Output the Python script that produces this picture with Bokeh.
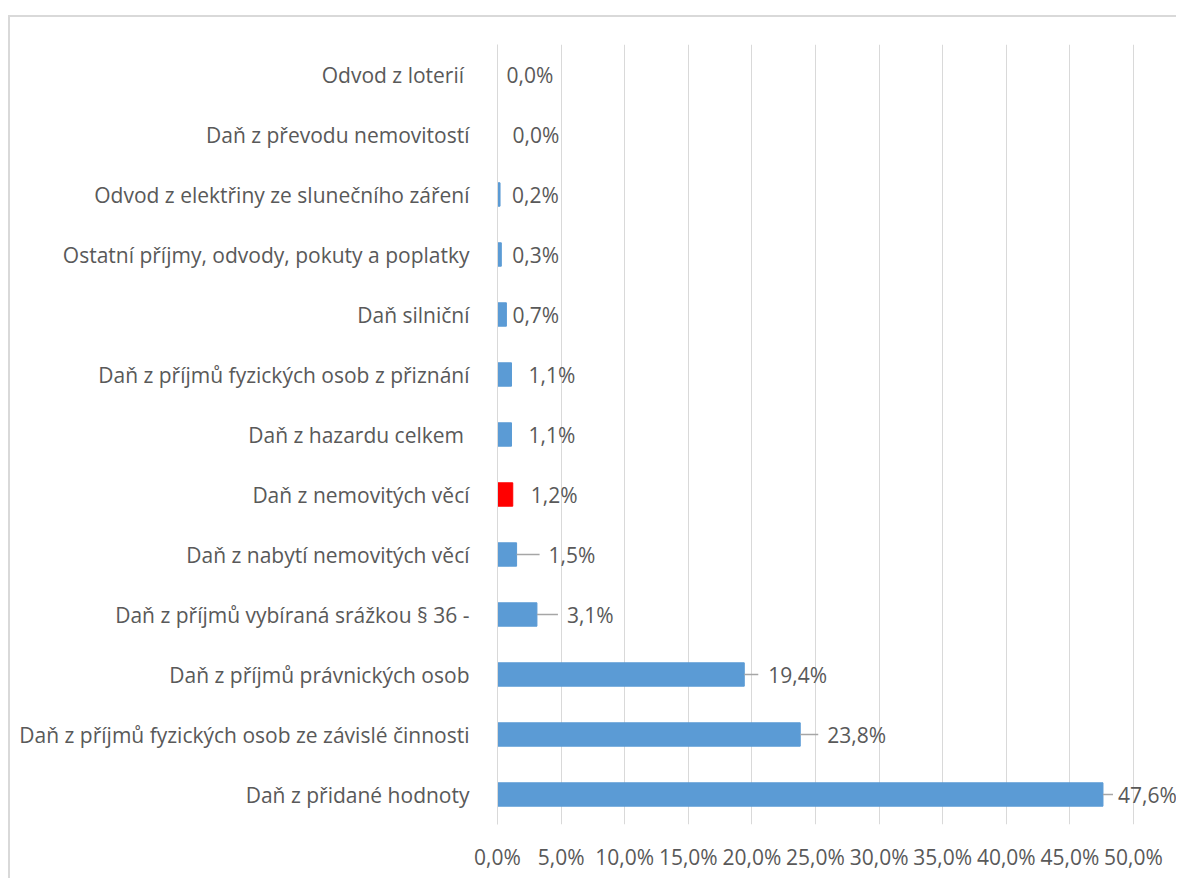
from bokeh.plotting import figure
from bokeh.models import ColumnDataSource, FixedTicker, FactorRange, Range1d, LabelSet
from bokeh.core.properties import value
from bokeh.embed import file_html
from bokeh.resources import INLINE

# ---- data (top to bottom as shown) ----
categories = [
    "Odvod z loterií ",
    "Daň z převodu nemovitostí",
    "Odvod z elektřiny ze slunečního záření",
    "Ostatní příjmy, odvody, pokuty a poplatky",
    "Daň silniční",
    "Daň z příjmů fyzických osob z přiznání",
    "Daň z hazardu celkem ",
    "Daň z nemovitých věcí",
    "Daň z nabytí nemovitých věcí",
    "Daň z příjmů vybíraná srážkou § 36 -",
    "Daň z příjmů právnických osob",
    "Daň z příjmů fyzických osob ze závislé činnosti",
    "Daň z přidané hodnoty",
]
shares = [0.000, 0.000, 0.002, 0.003, 0.007, 0.011, 0.011, 0.012, 0.015, 0.031, 0.194, 0.238, 0.476]
highlight = [False, False, False, False, False, False, False, True, False, False, False, False, False]
labels = ["0,0%", "0,0%", "0,2%", "0,3%", "0,7%", "1,1%", "1,1%", "1,2%", "1,5%", "3,1%", "19,4%", "23,8%", "47,6%"]
x_ticks = [0.0, 0.05, 0.10, 0.15, 0.20, 0.25, 0.30, 0.35, 0.40, 0.45, 0.50]
x_tick_labels = ["0,0%", "5,0%", "10,0%", "15,0%", "20,0%", "25,0%", "30,0%", "35,0%", "40,0%", "45,0%", "50,0%"]

# label placement (pixels from bar end) and leader line lengths (pixels)
label_offsets = [9, 15, 12, 11, 6, 17, 17, 18, 32, 30, 24, 27, 15]
leader_px = [0, 0, 0, 0, 0, 0, 0, 0, 23, 21, 14, 18, 10]

BLUE = "#5B9BD5"
RED = "#FF0000"
TEXT = "#595959"
GRID = "#D9D9D9"
FONT = "Open Sans"
FS = "21px"

W, H = 1168, 863
ML, MT, MB = 487, 27, 56
axis_w = 636          # pixel width of the 0..50 % axis
x_max = 0.5
px_per_unit = axis_w / x_max
x_end = x_max + (W - ML - axis_w) / px_per_unit   # extend frame to the canvas edge so labels are not clipped

colors = [RED if h else BLUE for h in highlight]
leader_end = [s + lp / px_per_unit for s, lp in zip(shares, leader_px)]
has_leader = [lp > 0 for lp in leader_px]

src = ColumnDataSource(dict(cat=categories, v=shares, c=colors, lab=labels, off=label_offsets))
lsrc = ColumnDataSource(dict(
    cat=[c for c, h in zip(categories, has_leader) if h],
    x0=[s for s, h in zip(shares, has_leader) if h],
    x1=[e for e, h in zip(leader_end, has_leader) if h],
))

p = figure(width=W, height=H, output_backend="svg", toolbar_location=None,
           y_range=FactorRange(factors=list(reversed(categories)), range_padding=0),
           x_range=Range1d(0, x_end),
           min_border_left=ML, min_border_right=0, min_border_top=MT, min_border_bottom=MB,
           styles={"margin-left": "8px", "margin-top": "15px",
                   "border-left": "2px solid #D9D9D9", "border-top": "2px solid #D9D9D9"})
p.outline_line_color = None
p.background_fill_color = "white"
p.border_fill_color = "white"

p.hbar(y="cat", right="v", left=0, height=0.39, color="c", line_color="c", source=src)
p.segment(x0="x0", y0="cat", x1="x1", y1="cat", line_color="#A6A6A6", line_width=1.5, source=lsrc)
p.add_layout(LabelSet(x="v", y="cat", text="lab", x_offset="off", source=src,
                      text_font=value(FONT), text_font_size=value(FS), text_color=value(TEXT),
                      text_align="left", text_baseline="middle"))

p.ygrid.grid_line_color = None
p.xgrid.grid_line_color = GRID
p.xgrid.ticker = FixedTicker(ticks=x_ticks)

p.xaxis.ticker = FixedTicker(ticks=x_ticks)
p.xaxis.major_label_overrides = {t: l for t, l in zip(x_ticks, x_tick_labels)}
p.xaxis.axis_line_color = None
p.xaxis.major_tick_line_color = None
p.xaxis.minor_tick_line_color = None
p.xaxis.major_label_standoff = 12
p.xaxis.major_label_text_font = FONT
p.xaxis.major_label_text_font_size = FS
p.xaxis.major_label_text_color = TEXT

p.yaxis.axis_line_color = GRID
p.yaxis.major_tick_line_color = None
p.yaxis.minor_tick_line_color = None
p.yaxis.major_label_standoff = 22
p.yaxis.major_label_text_font = FONT
p.yaxis.major_label_text_font_size = FS
p.yaxis.major_label_text_color = TEXT

open("out.html", "w").write(file_html(p, INLINE))
